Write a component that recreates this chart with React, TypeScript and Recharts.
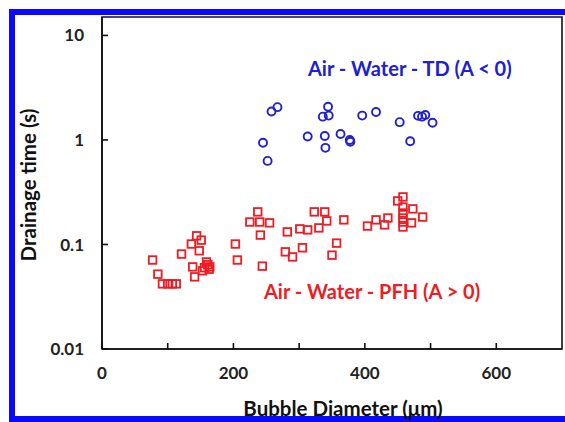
import React from "react";
import { ScatterChart, Scatter, XAxis, YAxis, ReferenceArea } from "recharts";

// tick positions and labels
const xTicks = [0, 100, 200, 300, 400, 500, 600];
const xLabels = ["0", "", "200", "", "400", "", "600"];
const yTicks = [0.01, 0.1, 1, 10];
const yLabels = ["0.01", "0.1", "1", "10"];

// Air - Water - TD (A < 0), blue circles
const tdDiameter = [258, 267, 245, 252, 313, 339, 340, 336, 345, 344, 363, 377, 378, 396, 417, 453, 469, 481, 487, 492, 503];
const tdTime = [1.87, 2.06, 0.94, 0.63, 1.08, 1.09, 0.84, 1.67, 1.71, 2.08, 1.14, 1.0, 0.96, 1.71, 1.85, 1.48, 0.97, 1.7, 1.67, 1.73, 1.46];

// Air - Water - PFH (A > 0), red squares
const pfhDiameter = [
  77, 85, 92, 100, 107, 113, 121, 136, 144, 151, 148, 138, 141, 156, 161, 164, 153, 159, 163,
  203, 206, 225, 237, 240, 255, 241, 244,
  282, 279, 290, 301, 305, 313, 323, 330, 339, 342, 350, 357, 368,
  404, 417, 430, 435, 450, 458, 458, 458, 458, 458, 458, 473, 471, 488,
];
const pfhTime = [
  0.071, 0.052, 0.042, 0.042, 0.042, 0.042, 0.081, 0.101, 0.121, 0.11, 0.087, 0.061, 0.049, 0.06, 0.064, 0.061, 0.056, 0.068, 0.058,
  0.101, 0.071, 0.164, 0.205, 0.164, 0.161, 0.123, 0.062,
  0.132, 0.085, 0.076, 0.141, 0.093, 0.138, 0.205, 0.144, 0.205, 0.168, 0.079, 0.103, 0.172,
  0.15, 0.172, 0.154, 0.179, 0.261, 0.285, 0.228, 0.2, 0.179, 0.164, 0.147, 0.219, 0.161, 0.183,
];

const tdData = tdDiameter.map((x, i) => ({ x, y: tdTime[i] }));
const pfhData = pfhDiameter.map((x, i) => ({ x, y: pfhTime[i] }));

const font = "Lato, 'Open Sans', sans-serif";
const blue = "#2020d0";
const red = "#ee1c24";

const Ring = (props: any) => (
  <circle cx={props.cx} cy={props.cy} r={4} fill="none" stroke={blue} strokeWidth={1.9} />
);

const Box = (props: any) => (
  <rect x={props.cx - 3.8} y={props.cy - 3.8} width={7.6} height={7.6} fill="none" stroke={red} strokeWidth={1.8} />
);

export default function App() {
  const tickStyle = { fill: "#222", fontSize: 17, fontWeight: 700, fontFamily: font };
  return (
    <div
      style={{
        position: "fixed",
        left: 0,
        top: 0,
        width: 565,
        height: 422,
        overflow: "hidden",
        background: "#fff",
      }}
    >
      <div
        style={{
          position: "absolute",
          left: 9,
          top: 9,
          width: 620,
          height: 413,
          boxSizing: "border-box",
          border: "6px solid #0a0aff",
        }}
      />
      <div style={{ position: "absolute", left: 0, top: 0 }}>
        <ScatterChart width={565} height={422} margin={{ top: 17, right: 3, bottom: 0, left: 0 }}>
          <XAxis
            type="number"
            dataKey="x"
            domain={[0, 700]}
            ticks={xTicks}
            tickFormatter={(v: number) => xLabels[xTicks.indexOf(v)]}
            height={73}
            tickSize={-6}
            tickMargin={24}
            axisLine={{ stroke: "#111", strokeWidth: 1.6 }}
            tickLine={{ stroke: "#111", strokeWidth: 1.6 }}
            tick={tickStyle}
            allowDataOverflow
          />
          <YAxis
            type="number"
            dataKey="y"
            scale="log"
            domain={[0.01, 15]}
            ticks={yTicks}
            tickFormatter={(v: number) => yLabels[yTicks.indexOf(v)]}
            width={102}
            tickSize={-6}
            tickMargin={24}
            axisLine={{ stroke: "#111", strokeWidth: 1.6 }}
            tickLine={{ stroke: "#111", strokeWidth: 1.6 }}
            tick={tickStyle}
            allowDataOverflow
          />
          <ReferenceArea x1={0} x2={700} y1={0.01} y2={15} fill="none" stroke="#111" strokeWidth={1.6} />
          <Scatter data={tdData} shape={Ring} isAnimationActive={false} />
          <Scatter data={pfhData} shape={Box} isAnimationActive={false} />
        </ScatterChart>
      </div>
      <svg
        width={565}
        height={422}
        style={{ position: "absolute", left: 0, top: 0, pointerEvents: "none" }}
        fontFamily={font}
        fontWeight={700}
      >
        <text x={308} y={68} dominantBaseline="central" fontSize={20} fill={blue}>
          Air - Water - TD (A &lt; 0)
        </text>
        <text x={264} y={291} dominantBaseline="central" fontSize={20} fill={red}>
          Air - Water - PFH (A &gt; 0)
        </text>
        <text x={343} y={408} textAnchor="middle" dominantBaseline="central" fontSize={20.5} fill="#111">
          Bubble Diameter (μm)
        </text>
        <text
          x={28}
          y={185}
          textAnchor="middle"
          dominantBaseline="central"
          fontSize={20.5}
          fill="#111"
          transform="rotate(-90 28 185)"
        >
          Drainage time (s)
        </text>
      </svg>
    </div>
  );
}
